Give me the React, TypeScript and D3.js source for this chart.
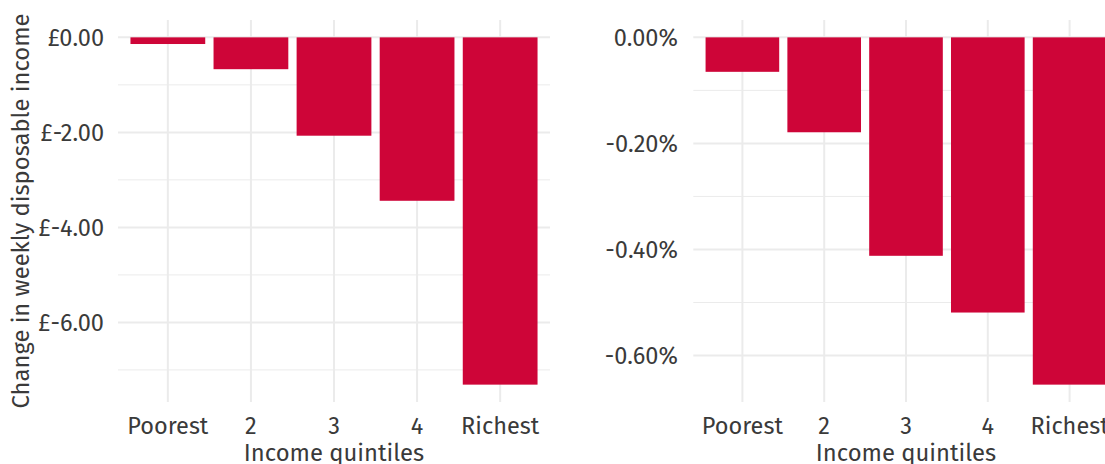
import React from "react";
import * as d3 from "d3";

const categories = ["Poorest", "2", "3", "4", "Richest"];
const weeklyChange = [-0.14, -0.67, -2.07, -3.44, -7.31];
const pctChange = [-0.065, -0.179, -0.412, -0.519, -0.655];
const leftMajor = [0, -2, -4, -6];
const leftMinor = [-1, -3, -5, -7];
const rightMajor = [0, -0.2, -0.4, -0.6];
const rightMinor = [-0.1, -0.3, -0.5];

const W = 1105;
const H = 464;
const FONT = "'Fira Sans', 'Noto Sans', sans-serif";
const BAR = "#ce0538";
const GRID = "#ebebeb";
const TXT = "#3a3a3a";
const TICK_SIZE = 23.5;
const TITLE_SIZE = 23.8;

type PanelProps = {
  x0: number;
  x1: number;
  values: number[];
  major: number[];
  minor: number[];
  fmt: (v: number) => string;
  labelGap: number;
};

function Panel({ x0, x1, values, major, minor, fmt, labelGap }: PanelProps) {
  const top = 20;
  const bottom = 402;
  const x = d3
    .scaleBand<string>()
    .domain(categories)
    .range([x0, x1])
    .paddingInner(0.1)
    .paddingOuter(0.15);
  const minV = Math.min(0, d3.min(values) as number);
  const maxV = Math.max(0, d3.max(values) as number);
  const ext = (maxV - minV) * 0.05;
  const y = d3.scaleLinear().domain([minV - ext, maxV + ext]).range([bottom, top]);
  const cx = (c: string) => (x(c) as number) + x.bandwidth() / 2;
  return (
    <g>
      {minor.map((v) => (
        <line key={"mn" + v} x1={x0} x2={x1} y1={y(v)} y2={y(v)} stroke={GRID} strokeWidth={1} />
      ))}
      {major.map((v) => (
        <line key={"mj" + v} x1={x0} x2={x1} y1={y(v)} y2={y(v)} stroke={GRID} strokeWidth={2} />
      ))}
      {categories.map((c) => (
        <line key={"vx" + c} x1={cx(c)} x2={cx(c)} y1={top} y2={bottom} stroke={GRID} strokeWidth={2} />
      ))}
      {categories.map((c, i) => (
        <rect
          key={"b" + c}
          x={x(c)}
          width={x.bandwidth()}
          y={y(Math.max(0, values[i]))}
          height={Math.abs(y(values[i]) - y(0))}
          fill={BAR}
        />
      ))}
      {major.map((v) => (
        <text
          key={"yl" + v}
          x={x0 - labelGap}
          y={y(v)}
          dy="0.36em"
          textAnchor="end"
          fontSize={TICK_SIZE}
          fill={TXT}
          fontFamily={FONT}
        >
          {fmt(v)}
        </text>
      ))}
      {categories.map((c) => (
        <text key={"xl" + c} x={cx(c)} y={434} textAnchor="middle" fontSize={TICK_SIZE} fill={TXT} fontFamily={FONT}>
          {c}
        </text>
      ))}
      <text x={(x0 + x1) / 2} y={461} textAnchor="middle" fontSize={TITLE_SIZE} fill={TXT} fontFamily={FONT}>
        Income quintiles
      </text>
    </g>
  );
}

const fmtPound = (v: number) => `£${(v === 0 ? 0 : v).toFixed(2)}`;
const fmtPct = (v: number) => `${(Math.abs(v) < 1e-9 ? 0 : v).toFixed(2)}%`;

export default function App() {
  return (
    <svg
      width={W}
      height={H}
      style={{ position: "absolute", left: 0, top: 0, background: "#fff" }}
    >
      <rect width={W} height={H} fill="#fff" />
      <Panel x0={118} x1={550} values={weeklyChange} major={leftMajor} minor={leftMinor} fmt={fmtPound} labelGap={14} />
      <Panel x0={693.3} x1={1118.7} values={pctChange} major={rightMajor} minor={rightMinor} fmt={fmtPct} labelGap={15.5} />
      <text
        transform="translate(29,211) rotate(-90)"
        textAnchor="middle"
        fontSize={TITLE_SIZE}
        fill={TXT}
        fontFamily={FONT}
      >
        Change in weekly disposable income
      </text>
    </svg>
  );
}
